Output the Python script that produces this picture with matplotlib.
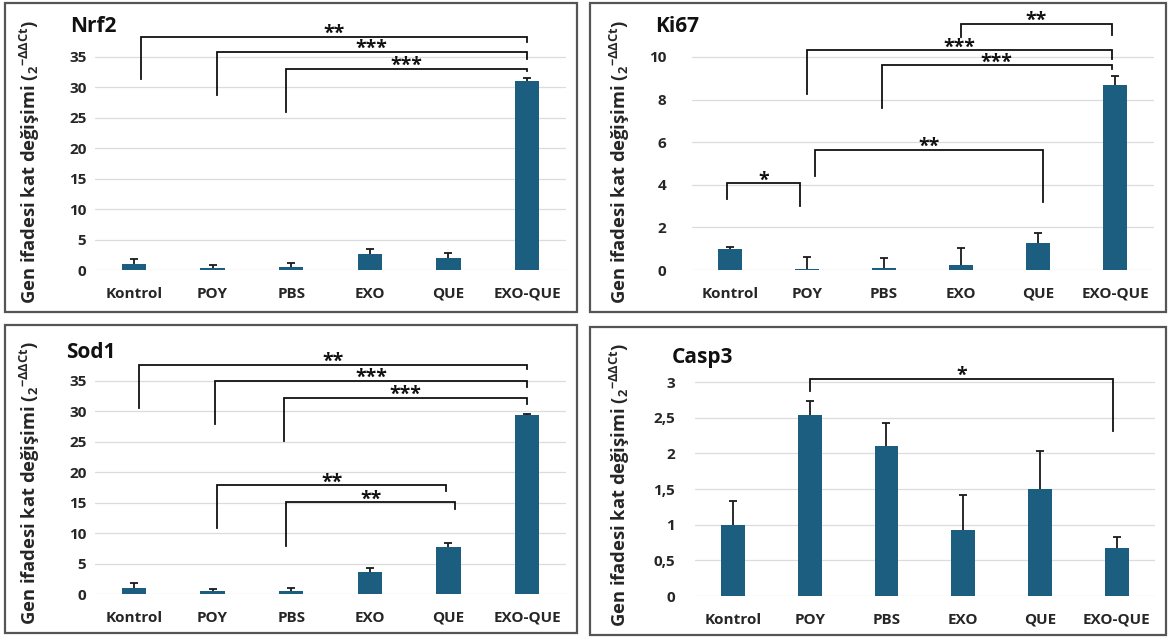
import matplotlib
matplotlib.use('Agg')
import matplotlib.pyplot as plt
from matplotlib.patches import Rectangle
from matplotlib.ticker import FuncFormatter

plt.rcParams['font.family'] = ['Open Sans', 'DejaVu Sans']

# ---------------- data ----------------
categories = ['Kontrol', 'POY', 'PBS', 'EXO', 'QUE', 'EXO-QUE']

nrf2_values = [0.92, 0.27, 0.49, 2.66, 2.00, 31.04]
nrf2_errors = [0.92, 0.54, 0.70, 0.87, 0.71, 0.46]

ki67_values = [0.97, 0.06, 0.09, 0.22, 1.26, 8.67]
ki67_errors = [0.13, 0.57, 0.46, 0.83, 0.47, 0.42]

sod1_values = [0.93, 0.49, 0.49, 3.68, 7.80, 29.40]
sod1_errors = [0.83, 0.28, 0.44, 0.55, 0.55, 0.20]

casp3_values = [0.99, 2.54, 2.10, 0.92, 1.50, 0.68]
casp3_errors = [0.34, 0.19, 0.33, 0.50, 0.53, 0.15]

nrf2_ticks = [0, 5, 10, 15, 20, 25, 30, 35]
ki67_ticks = [0, 2, 4, 6, 8, 10]
sod1_ticks = [0, 5, 10, 15, 20, 25, 30, 35]
casp3_ticks = [0, 0.5, 1, 1.5, 2, 2.5, 3]

# significance brackets: (group a, group b, label, top, left leg end, right leg end)
nrf2_sig = [(0, 5, '**', 38.25, 31.4, 37.4),
            (1, 5, '***', 35.8, 28.8, 34.7),
            (2, 5, '***', 33.0, 26.0, 32.7)]
ki67_sig = [(0, 1, '*', 4.07, 3.33, 3.01),
            (1, 4, '**', 5.65, 4.43, 3.17),
            (1, 5, '***', 10.31, 8.27, 9.92),
            (2, 5, '***', 9.61, 7.6, 9.45),
            (3, 5, '**', 11.55, 10.94, 11.03)]
sod1_sig = [(0, 5, '**', 37.6, 30.6, 36.9),
            (1, 5, '***', 35.0, 28.0, 34.0),
            (2, 5, '***', 32.25, 25.1, 31.15),
            (1, 4, '**', 17.86, 10.8, 16.9),
            (2, 4, '**', 15.05, 7.9, 13.96)]
casp3_sig = [(1, 5, '*', 3.05, 2.87, 2.31)]

# ---------------- layout / style ----------------
W, H = 1168, 640
BAR = '#1b5e80'
fig = plt.figure(figsize=(W / 100, H / 100), dpi=100)
fig.patch.set_facecolor('white')

# small horizontal leg offsets (fractions of category spacing) for brackets
nrf2_off = [(0.09, 0.0), (0.05, 0.0), (-0.06, 0.0)]
ki67_off = [(-0.04, -0.09), (0.10, 0.07), (0.0, -0.04), (-0.03, -0.04), (0.0, -0.04)]
sod1_off = [(0.06, 0.0), (0.03, 0.0), (-0.09, 0.0), (0.06, -0.03), (-0.06, 0.08)]
casp3_off = [(0.0, -0.05)]


def px_axes(left, right, y0, ppu, ymax):
    top = y0 - ymax * ppu
    return fig.add_axes([left / W, 1 - y0 / H, (right - left) / W, (y0 - top) / H])


def panel(box, axbox, title, tpos, ylab_x, values, errors, ticks, sig, offs,
          ytick_pad, comma=False):
    # frame
    bx0, by0, bx1, by1 = box
    fig.patches.append(Rectangle((bx0 / W, 1 - by1 / H), (bx1 - bx0) / W, (by1 - by0) / H,
                                 transform=fig.transFigure, fill=False,
                                 edgecolor='#555555', lw=1.6))
    ax = px_axes(*axbox)
    x = list(range(len(categories)))
    ax.bar(x, values, width=0.31, color=BAR, zorder=2)
    eb = ax.errorbar(x, values, yerr=[[0] * len(errors), errors], fmt='none',
                     ecolor='#1a1a1a', elinewidth=1.3, capsize=3, capthick=1.3, zorder=3)
    caps = eb[1]
    if len(caps) == 2:
        caps[0].set_visible(False)
    ax.set_xlim(-0.5, len(categories) - 0.5)
    ax.set_ylim(0, axbox[4])
    ax.set_yticks(ticks)
    if comma:
        ax.yaxis.set_major_formatter(FuncFormatter(
            lambda v, p: ('%g' % v).replace('.', ',')))
    ax.set_xticks(x)
    ax.set_xticklabels(categories, fontsize=11, fontweight='bold', color='#262626')
    for lab in ax.get_yticklabels():
        lab.set_fontsize(11)
        lab.set_fontweight('bold')
        lab.set_color('#262626')
    ax.tick_params(axis='both', length=0)
    ax.tick_params(axis='x', pad=12)
    ax.tick_params(axis='y', pad=ytick_pad)
    for s in ax.spines.values():
        s.set_visible(False)
    ax.yaxis.grid(True, color='#dcdcdc', lw=0.9)
    ax.set_axisbelow(True)
    # brackets
    for (a, b, lab, top, la, lb), (da, db) in zip(sig, offs):
        xa, xb = a + da, b + db
        ax.plot([xa, xa, xb, xb], [la, top, top, lb], color='#111111', lw=1.3,
                clip_on=False, zorder=4, solid_joinstyle='miter')
        ax.annotate(lab, xy=((xa + xb) / 2, top), xytext=(0, -1.5),
                    textcoords='offset points', ha='center', va='baseline',
                    fontsize=14, fontweight='bold', color='#111111',
                    annotation_clip=False)
    # title
    fig.text(tpos[0] / W, 1 - tpos[1] / H, title, ha='left', va='center',
             fontsize=15, fontweight='bold', color='#111111')
    # y label
    ycen = (box[1] + box[3]) / 2 + 4
    fig.text(ylab_x / W, 1 - ycen / H,
             r'Gen ifadesi kat değişimi ($\mathregular{_{2}{}^{-\Delta\Delta Ct}}$)',
             rotation=90, ha='center', va='center', fontsize=13.2,
             fontweight='bold', color='#262626')
    return ax


panel((5, 3, 577, 312), (94.7, 566.3, 270, 6.09, 40), 'Nrf2', (70, 27), 30,
      nrf2_values, nrf2_errors, nrf2_ticks, nrf2_sig, nrf2_off, 6)
panel((590, 3, 1166, 312), (691.5, 1153.5, 270, 21.3, 11.6), 'Ki67', (655, 27), 620,
      ki67_values, ki67_errors, ki67_ticks, ki67_sig, ki67_off, 18)
panel((5, 325, 577, 633), (94.7, 566.3, 594, 6.086, 40), 'Sod1', (66, 352), 30,
      sod1_values, sod1_errors, sod1_ticks, sod1_sig, sod1_off, 6)
panel((590, 327, 1166, 635), (694.6, 1155, 596, 71.3, 3.4), 'Casp3', (672, 357), 620,
      casp3_values, casp3_errors, casp3_ticks, casp3_sig, casp3_off, 14, comma=True)

fig.savefig('out.png', dpi=100, facecolor='white')
